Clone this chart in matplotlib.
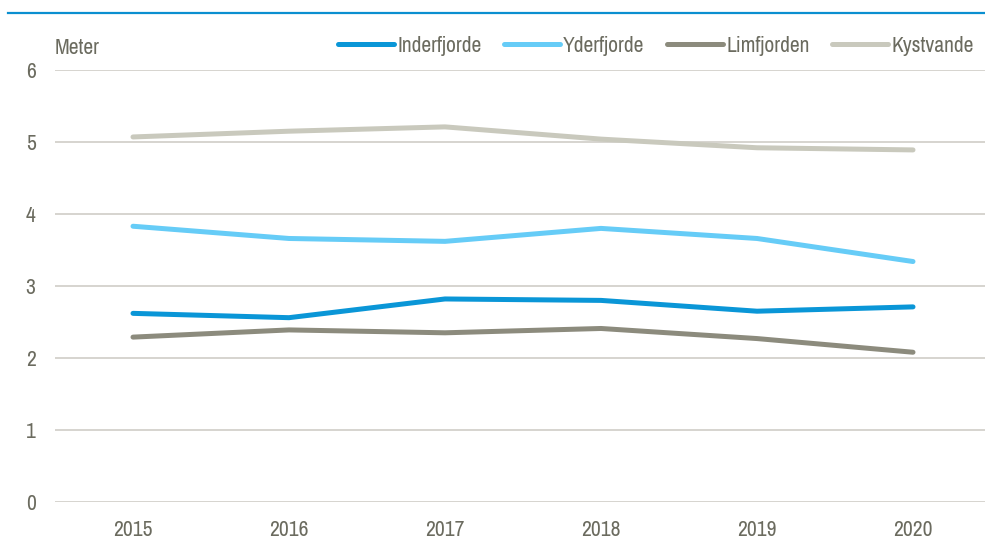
import matplotlib
matplotlib.use("Agg")
import matplotlib.pyplot as plt
from matplotlib.lines import Line2D

plt.rcParams['font.family'] = ['Archivo Narrow', 'DejaVu Sans']

years = ["2015", "2016", "2017", "2018", "2019", "2020"]
inderfjorde = [2.62, 2.56, 2.82, 2.80, 2.65, 2.71]
yderfjorde = [3.83, 3.66, 3.62, 3.80, 3.66, 3.34]
limfjorden = [2.29, 2.39, 2.35, 2.41, 2.27, 2.08]
kystvande = [5.07, 5.15, 5.21, 5.04, 4.92, 4.89]
series_names = ["Inderfjorde", "Yderfjorde", "Limfjorden", "Kystvande"]
y_ticks = [0, 1, 2, 3, 4, 5, 6]

colors = ["#0A96D7", "#66CCF7", "#8C8B7D", "#C9C9BD"]
text_color = "#6B6B5F"
grid_color = "#D3D1CB"
fs = 15.5

fig = plt.figure(figsize=(9.85, 5.43), dpi=100)
ax = fig.add_axes([55 / 985, 1 - 502 / 543, 936 / 985, 432 / 543])

x = list(range(len(years)))
for name, vals, c in zip(series_names, [inderfjorde, yderfjorde, limfjorden, kystvande], colors):
    ax.plot(x, vals, color=c, lw=3.6, solid_capstyle='round', solid_joinstyle='round',
            label=name, zorder=3)

ax.set_xlim(-0.5, len(years) - 0.5)
ax.set_ylim(0, 6)
ax.set_yticks(y_ticks)
ax.set_xticks(x)
ax.set_xticklabels(years)
for s in ax.spines.values():
    s.set_visible(False)
ax.grid(axis='y', color=grid_color, lw=1.3, zorder=0)
ax.tick_params(axis='both', length=0, labelsize=fs, colors=text_color)
ax.tick_params(axis='x', pad=13)
ax.tick_params(axis='y', pad=14)

fig.text(55 / 985, 1 - 48 / 543, "Meter", fontsize=fs, color=text_color,
         ha='left', va='center')

handles = [Line2D([], [], color=c, lw=3.6, solid_capstyle='round') for c in colors]
leg = fig.legend(handles, series_names, loc='center right',
                 bbox_to_anchor=(974 / 985, 1 - 46 / 543), ncol=4, frameon=False,
                 fontsize=fs, handlelength=2.6, handletextpad=0.15,
                 columnspacing=1.05, borderaxespad=0, borderpad=0)
for t in leg.get_texts():
    t.set_color(text_color)

# header rule
fig.add_artist(Line2D([8 / 985, 1.0], [1 - 12.5 / 543] * 2, color="#0A8FD0", lw=1.6))

fig.savefig("out.png", dpi=100)
